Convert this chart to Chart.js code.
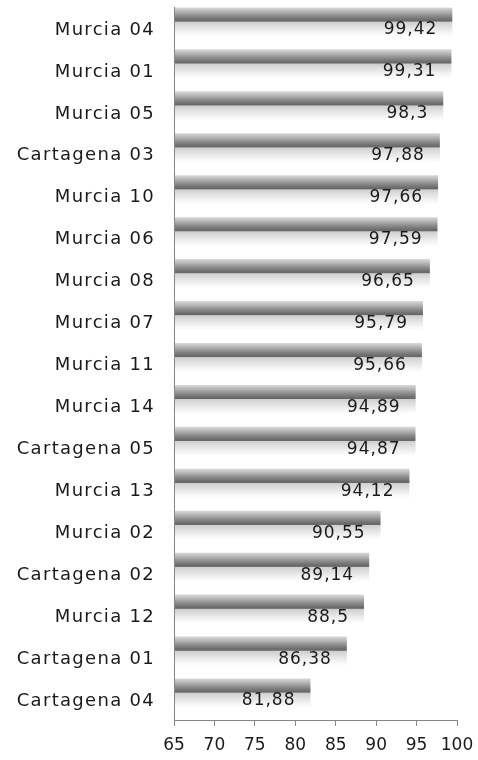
<!DOCTYPE html>
<html>
<head>
<meta charset="utf-8">
<script src="https://cdn.jsdelivr.net/npm/chart.js@4.4.1/dist/chart.umd.min.js"></script>
<style>
html,body{margin:0;padding:0;background:#fff;}
#wrap{width:478px;height:760px;position:relative;}
</style>
</head>
<body>
<div id="wrap"><canvas id="c" width="478" height="760"></canvas></div>
<script>
const categories = ["Murcia 04","Murcia 01","Murcia 05","Cartagena 03","Murcia 10","Murcia 06","Murcia 08","Murcia 07","Murcia 11","Murcia 14","Cartagena 05","Murcia 13","Murcia 02","Cartagena 02","Murcia 12","Cartagena 01","Cartagena 04"];
const values = [99.42,99.31,98.3,97.88,97.66,97.59,96.65,95.79,95.66,94.89,94.87,94.12,90.55,89.14,88.5,86.38,81.88];
const xTicks = [65,70,75,80,85,90,95,100];

const FONT = "'DejaVu Sans', sans-serif";

function barGradient(ctx, top, bot) {
  const g = ctx.createLinearGradient(0, top, 0, bot);
  g.addColorStop(0.00, '#dadada');
  g.addColorStop(0.10, '#b6b6b6');
  g.addColorStop(0.20, '#8e8e8e');
  g.addColorStop(0.31, '#6a6a6a');
  g.addColorStop(0.335, '#686868');
  g.addColorStop(0.355, '#cfcfcf');
  g.addColorStop(0.50, '#e5e5e5');
  g.addColorStop(0.64, '#f8f8f8');
  g.addColorStop(0.72, '#ffffff');
  g.addColorStop(1.00, '#ffffff');
  return g;
}

const gradientPlugin = {
  id: 'gradBars',
  beforeDatasetDraw(chart, args) {
    const ctx = chart.ctx;
    const a = chart.chartArea;
    ctx.save();
    ctx.beginPath();
    ctx.rect(a.left + 1, a.top, a.right - a.left - 1, a.bottom - a.top);
    ctx.clip();
    args.meta.data.forEach(el => {
      const top = el.y - el.height / 2, bot = el.y + el.height / 2;
      el.options.backgroundColor = barGradient(ctx, top, bot);
      el.draw(ctx, a);
    });
    ctx.restore();
    return false;
  }
};

const labelPlugin = {
  id: 'valLabels',
  afterDatasetsDraw(chart) {
    const ctx = chart.ctx;
    const meta = chart.getDatasetMeta(0);
    ctx.save();
    ctx.font = "17px " + FONT;
    ctx.letterSpacing = '1px';
    ctx.fillStyle = '#1a1a1a';
    ctx.textAlign = 'right';
    ctx.textBaseline = 'middle';
    meta.data.forEach((el, i) => {
      const txt = String(values[i]).replace('.', ',');
      ctx.fillText(txt, el.x - 15, el.y + 2);
    });
    ctx.restore();
  }
};

new Chart(document.getElementById('c'), {
  type: 'bar',
  data: {
    labels: categories,
    datasets: [{
      data: values,
      backgroundColor: '#dddddd',
      borderWidth: 0,
      barPercentage: 0.98,
      categoryPercentage: 1.0
    }]
  },
  options: {
    indexAxis: 'y',
    responsive: false,
    animation: false,
    layout: { padding: { top: 7, right: 21, left: 0, bottom: 0 } },
    plugins: { legend: { display: false }, tooltip: { enabled: false } },
    scales: {
      x: {
        min: 65, max: 100,
        afterBuildTicks(axis) { axis.ticks = xTicks.map(v => ({ value: v })); },
        grid: { drawOnChartArea: false, drawTicks: true, tickLength: 6, color: '#868686' },
        border: { display: true, color: '#868686', width: 1 },
        ticks: { font: { family: FONT, size: 17 }, color: '#1a1a1a', padding: 9, maxRotation: 0, autoSkip: false },
        afterFit(axis) { axis.height = 40; axis.paddingRight = 0; axis.paddingLeft = 0; }
      },
      y: {
        grid: { drawOnChartArea: false, drawTicks: false, color: '#868686' },
        border: { display: true, color: '#868686', width: 1 },
        ticks: { font: { family: FONT, size: 18 }, color: '#1a1a1a', padding: 19, labelOffset: 2, autoSkip: false },
        afterFit(axis) {
          axis.width = 174; axis.paddingTop = 0; axis.paddingBottom = 0;
          if (!axis._lsPatched) {
            const orig = axis.drawLabels.bind(axis);
            axis.drawLabels = function(area) {
              const c = axis.ctx;
              const prev = c.letterSpacing;
              c.letterSpacing = '1.3px';
              orig(area);
              c.letterSpacing = prev || '0px';
            };
            axis._lsPatched = true;
          }
        }
      }
    }
  },
  plugins: [gradientPlugin, labelPlugin]
});
</script>
</body>
</html>
